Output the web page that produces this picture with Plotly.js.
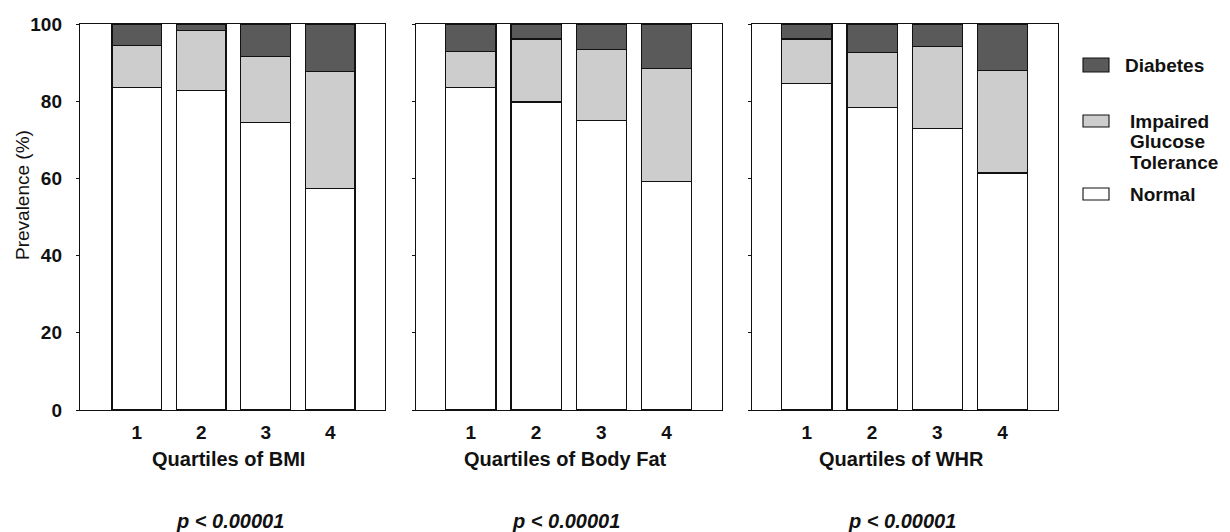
<!DOCTYPE html>
<html>
<head>
<meta charset="utf-8">
<script src="https://cdn.plot.ly/plotly-3.0.1.min.js"></script>
<style>html,body{margin:0;padding:0;background:#fff;}#chart{width:1230px;height:532px;}</style>
</head>
<body>
<div id="chart"></div>
<script>
// ---- data ----
const quartiles = [1, 2, 3, 4];
const tickLabels = ['1', '2', '3', '4'];
const yTicks = [0, 20, 40, 60, 80, 100];

const bmiNormal   = [83.5, 82.7, 74.4, 57.4];
const bmiIGT      = [10.9, 15.6, 17.1, 30.2];
const bmiDiabetes = [5.6, 1.7, 8.5, 12.4];

const fatNormal   = [83.6, 79.8, 75.0, 59.2];
const fatIGT      = [9.2, 16.3, 18.4, 29.2];
const fatDiabetes = [7.2, 3.9, 6.6, 11.6];

const whrNormal   = [84.5, 78.4, 73.0, 61.4];
const whrIGT      = [11.6, 14.3, 21.1, 26.6];
const whrDiabetes = [3.9, 7.3, 5.9, 12.0];

const panelTitles = ['Quartiles of BMI', 'Quartiles of Body Fat', 'Quartiles of WHR'];
const pValues = ['p < 0.00001', 'p < 0.00001', 'p < 0.00001'];
const seriesNames = [['Diabetes'], ['Impaired', 'Glucose', 'Tolerance'], ['Normal']];

// ---- styles ----
const FONT = 'Liberation Sans, Arial, Helvetica, sans-serif';
const colNormal = '#ffffff';
const colIGT = '#cdcdcd';
const colDiab = '#5a5a5a';
const W = 1230, H = 532, TOP = 24, BOTTOM = 410;
const px = x => x / W;
const py = y => (BOTTOM - y) / (BOTTOM - TOP);

const panels = [
  {normal: bmiNormal, igt: bmiIGT, diab: bmiDiabetes, xa: 'x',  ya: 'y'},
  {normal: fatNormal, igt: fatIGT, diab: fatDiabetes, xa: 'x2', ya: 'y2'},
  {normal: whrNormal, igt: whrIGT, diab: whrDiabetes, xa: 'x3', ya: 'y3'}
];

const traces = [];
panels.forEach(p => {
  const mk = c => ({color: c, line: {color: '#111', width: 1.2}});
  traces.push({type: 'bar', x: quartiles, y: p.normal, xaxis: p.xa, yaxis: p.ya, marker: mk(colNormal), showlegend: false, hoverinfo: 'y'});
  traces.push({type: 'bar', x: quartiles, y: p.igt, xaxis: p.xa, yaxis: p.ya, marker: mk(colIGT), showlegend: false, hoverinfo: 'y'});
  traces.push({type: 'bar', x: quartiles, y: p.diab, xaxis: p.xa, yaxis: p.ya, marker: mk(colDiab), showlegend: false, hoverinfo: 'y'});
});

const domains = [[80, 385], [416, 722], [752, 1058]];
const ranges = [[0.12, 4.85], [0.16, 4.85], [0.16, 4.85]];

const layout = {
  width: W, height: H,
  margin: {l: 0, r: 0, t: TOP, b: H - BOTTOM, pad: 0},
  paper_bgcolor: '#fff', plot_bgcolor: '#fff',
  barmode: 'stack', bargap: 0.23,
  font: {family: FONT, color: '#111'},
  showlegend: false,
  annotations: [], shapes: []
};

domains.forEach((d, i) => {
  const s = i === 0 ? '' : String(i + 1);
  layout['xaxis' + s] = {
    domain: [px(d[0]), px(d[1])], range: ranges[i], anchor: 'y' + s,
    tickvals: quartiles, ticktext: tickLabels, ticks: '',
    showline: true, linecolor: '#111', linewidth: 1.2, mirror: true,
    showgrid: false, zeroline: false, fixedrange: true,
    tickfont: {family: FONT, size: 19, color: '#111', weight: 'bold'},
    ticklabelstandoff: 5
  };
  layout['yaxis' + s] = {
    domain: [0, 1], range: [0, 100], anchor: 'x' + s,
    tickvals: yTicks, ticks: 'outside', ticklen: 3, tickcolor: '#111',
    showticklabels: i === 0,
    showline: true, linecolor: '#111', linewidth: 1.2, mirror: true,
    showgrid: false, zeroline: false, fixedrange: true,
    tickfont: {family: FONT, size: 19, color: '#111', weight: 'bold'},
    ticklabelstandoff: 10
  };
  const cx = (d[0] + d[1]) / 2;
  layout.annotations.push({
    xref: 'paper', yref: 'paper', x: px(cx - 4), y: py(459), xanchor: 'center', yanchor: 'middle',
    text: '<b>' + panelTitles[i] + '</b>', showarrow: false,
    font: {family: FONT, size: 20, color: '#111'}
  });
  layout.annotations.push({
    xref: 'paper', yref: 'paper', x: px(cx - 3), y: py(521), xanchor: 'center', yanchor: 'middle',
    text: '<b><i>' + pValues[i] + '</i></b>', showarrow: false,
    font: {family: FONT, size: 20, color: '#111'}
  });
});

// y axis title
layout.annotations.push({
  xref: 'paper', yref: 'paper', x: px(22), y: py(195), xanchor: 'center', yanchor: 'middle',
  text: 'Prevalence (%)', textangle: -90, showarrow: false,
  font: {family: FONT, size: 19, color: '#111'}
});

// legend (manual)
const legendItems = [
  {lines: seriesNames[0], color: colDiab, box: [58, 72], tx: 1123, ty: [65]},
  {lines: seriesNames[1], color: colIGT, box: [115, 127], tx: 1128, ty: [121, 141, 162]},
  {lines: seriesNames[2], color: colNormal, box: [188, 200], tx: 1128, ty: [194]}
];
legendItems.forEach(it => {
  layout.shapes.push({
    type: 'rect', xref: 'paper', yref: 'paper',
    x0: px(1083), x1: px(1109), y0: py(it.box[1]), y1: py(it.box[0]),
    fillcolor: it.color, line: {color: '#111', width: 1.1}
  });
  it.lines.forEach((ln, k) => {
    layout.annotations.push({
      xref: 'paper', yref: 'paper', x: px(it.tx), y: py(it.ty[k]), xanchor: 'left', yanchor: 'middle',
      align: 'left', text: '<b>' + ln + '</b>', showarrow: false,
      font: {family: FONT, size: 19, color: '#111'}
    });
  });
});

Plotly.newPlot('chart', traces, layout, {displayModeBar: false, staticPlot: true});
</script>
</body>
</html>
